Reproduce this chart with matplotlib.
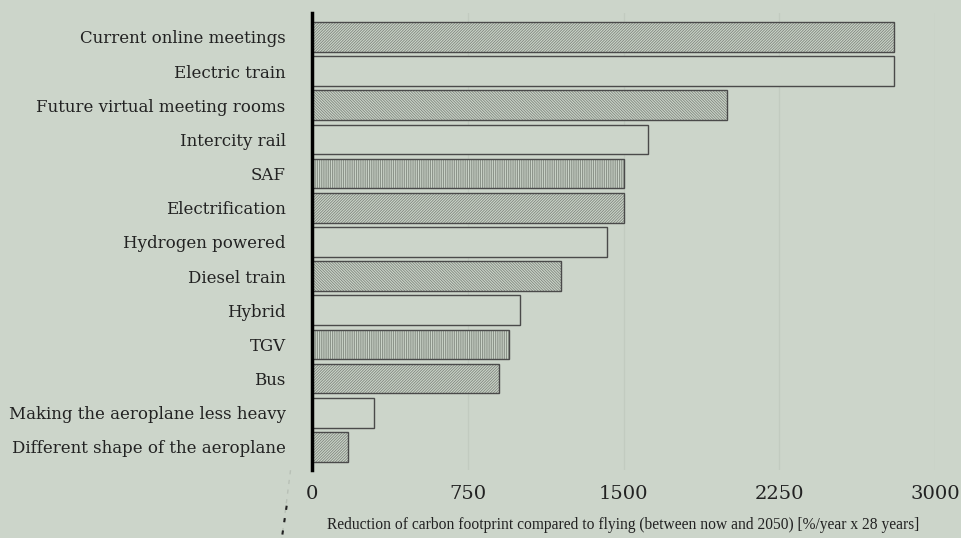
import matplotlib.pyplot as plt
from matplotlib.lines import Line2D

categories = [
    "Current online meetings",
    "Electric train",
    "Future virtual meeting rooms",
    "Intercity rail",
    "SAF",
    "Electrification",
    "Hydrogen powered",
    "Diesel train",
    "Hybrid",
    "TGV",
    "Bus",
    "Making the aeroplane less heavy",
    "Different shape of the aeroplane",
]
values = [2800, 2800, 2000, 1620, 1500, 1500, 1420, 1200, 1000, 950, 900, 300, 175]
hatches = ["/" * 12, "", "\\" * 12, "", "|" * 9, "/" * 12, "", "\\" * 12,
           "", "|" * 9, "/" * 12, "", "/" * 12]
xticks = [0, 750, 1500, 2250, 3000]
xlabel = "Reduction of carbon footprint compared to flying (between now and 2050) [%/year x 28 years]"

bg = "#ccd5ca"
plt.rcParams["hatch.linewidth"] = 0.6

fig = plt.figure(figsize=(9.62, 5.38), dpi=100, facecolor=bg)
ax = fig.add_axes([0.3243, 0.126, 0.6477, 0.85])
ax.set_facecolor(bg)

ypos = list(range(len(categories)))
# hatch layer in a softer grey, then the dark outline on top
ax.barh(ypos, values, height=0.87, color=bg, edgecolor="#7f867d", hatch=None,
        linewidth=0, zorder=3)
for y, v, h in zip(ypos, values, hatches):
    if h:
        ax.barh(y, v, height=0.87, color="none", edgecolor="#80877e", hatch=h,
                linewidth=0, zorder=3)
ax.barh(ypos, values, height=0.87, color="none", edgecolor="#4a4a4a",
        linewidth=1.0, zorder=4)

ax.set_xlim(0, 3000)
ax.set_ylim(12.68, -0.7)
ax.set_yticks(ypos)
ax.set_yticklabels(categories, family="DejaVu Serif", fontsize=12, color="#222222")
ax.set_xticks(xticks)
ax.set_xticklabels([str(t) for t in xticks], family="DejaVu Serif", fontsize=14,
                   color="#222222")
ax.tick_params(axis="y", length=0, pad=19)
ax.tick_params(axis="x", length=0, pad=11)
ax.set_xlabel(xlabel, family="Liberation Serif", fontsize=11.2, color="#222222",
              labelpad=10)

ax.grid(axis="x", color="#c2cbc0", linewidth=1.0, zorder=0)
for s in ["top", "right", "bottom"]:
    ax.spines[s].set_visible(False)
ax.spines["left"].set_linewidth(2.5)
ax.spines["left"].set_color("black")
ax.spines["left"].set_zorder(5)

# faint dashed stroke at lower left
fig.add_artist(Line2D([0.302, 0.293], [0.126, 0.0], color="#b8c0b6",
                      linestyle=(0, (3, 4)), linewidth=1.0))
fig.add_artist(Line2D([0.298, 0.293], [0.06, 0.0], color="#222222",
                      linestyle=(0, (2, 4)), linewidth=1.5))

fig.savefig("out.png", dpi=100, facecolor=bg)
